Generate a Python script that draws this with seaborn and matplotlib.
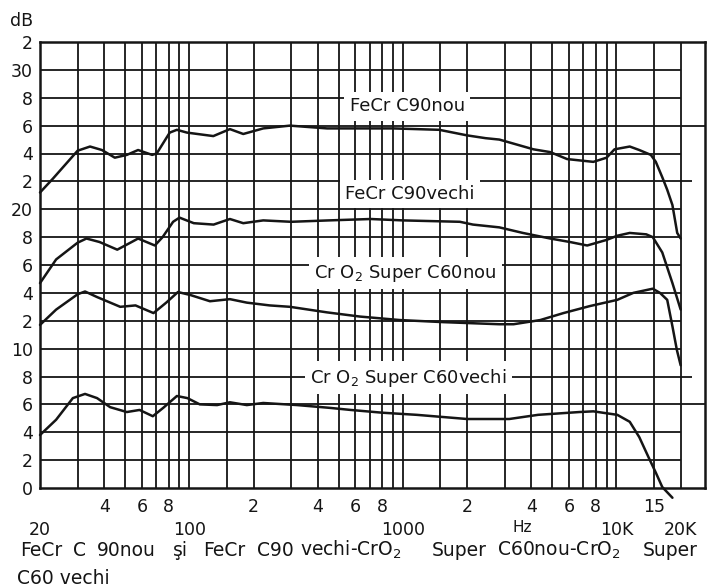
"""
Frequency response of four cassette tapes (FeCr C90 / CrO2 Super C60, new and old).
Curves are stacked with a vertical offset, as in the original scanned diagram.
"""

import matplotlib.pyplot as plt
import seaborn as sns
import pandas as pd

# FeCr C90 nou
f1 = [20, 23, 30, 34.3, 39, 44.8, 51, 57.6, 67, 70.4, 81, 87.5, 97.5, 129.6, 155, 179, 222, 296,
      442, 901, 1480, 2000, 2440, 2830, 4090, 4900, 5880, 7800, 9000, 9800, 11550, 12800, 14500,
      15300, 16400, 17300, 18300, 19270, 20000]
db1 = [21.2, 22.2, 24.2, 24.5, 24.25, 23.7, 23.9, 24.25, 23.9, 24.0, 25.5, 25.7, 25.5, 25.25, 25.75,
       25.4, 25.8, 26.0, 25.8, 25.8, 25.7, 25.3, 25.1, 25.0, 24.3, 24.1, 23.6, 23.4, 23.7, 24.3, 24.5,
       24.25, 23.9, 23.4, 22.3, 21.4, 20.3, 18.3, 17.9]

# FeCr C90 vechi
f2 = [20, 23.8, 30, 33, 38, 46, 53, 57.6, 69, 75, 84, 90, 105, 130, 155, 179, 222, 300, 450, 707,
      1000, 1850, 2130, 2830, 3650, 4900, 6060, 7300, 9000, 10100, 11550, 13800, 14800, 16400,
      18300, 20000]
db2 = [14.7, 16.4, 17.6, 17.9, 17.65, 17.1, 17.6, 17.9, 17.4, 18.0, 19.1, 19.4, 19.0, 18.9, 19.3,
       19.0, 19.2, 19.1, 19.2, 19.3, 19.2, 19.1, 18.9, 18.7, 18.3, 17.9, 17.65, 17.4, 17.8, 18.1,
       18.3, 18.2, 18.0, 16.9, 14.7, 12.8]

# CrO2 Super C60 nou
f3 = [20, 23.8, 30, 32.5, 37, 47.5, 56, 68, 78, 88.5, 101, 125, 155, 186, 238, 296, 442, 630, 970,
      1550, 2830, 3300, 4400, 5650, 7500, 10100, 12000, 14800, 16000, 17300, 18300, 19200, 20000]
db3 = [11.7, 12.8, 13.9, 14.1, 13.7, 13.0, 13.1, 12.55, 13.3, 14.06, 13.85, 13.4, 13.55, 13.3, 13.1,
       13.0, 12.6, 12.3, 12.05, 11.9, 11.75, 11.75, 12.05, 12.55, 13.05, 13.5, 14.0, 14.3, 14.0,
       13.5, 11.6, 9.9, 8.8]

# CrO2 Super C60 vechi
f4 = [20, 23.8, 28.5, 32.5, 37, 42.6, 51, 58.5, 67.5, 75.5, 87.5, 98, 112, 135, 155, 186, 222, 320,
      455, 570, 805, 1160, 2000, 3150, 4300, 6700, 7800, 10100, 11550, 12800, 14150, 15300, 16400,
      18300]
db4 = [3.8, 4.9, 6.45, 6.75, 6.45, 5.8, 5.45, 5.6, 5.15, 5.75, 6.6, 6.45, 6.0, 5.95, 6.15, 5.95, 6.1,
       5.95, 5.75, 5.6, 5.4, 5.25, 4.95, 4.95, 5.25, 5.45, 5.5, 5.25, 4.75, 3.65, 2.2, 1.1, 0.07, -0.7]

curve_names = ["FeCr C90 nou", "FeCr C90 vechi", "CrO2 Super C60 nou", "CrO2 Super C60 vechi"]

# labels written on the chart next to the curves (text, frequency, dB)
curve_labels = ["FeCr C90nou", "FeCr C90vechi", "Cr O$_2$ Super C60nou", "Cr O$_2$ Super C60vechi"]
label_freq = [1048, 1082, 1025, 1060]
label_db = [27.4, 21.1, 15.4, 7.9]

y_ticks = list(range(0, 33, 2))
y_tick_labels = ["0", "2", "4", "6", "8", "10", "2", "4", "6", "8", "20",
                 "2", "4", "6", "8", "30", "2"]
x_major = [20, 100, 1000, 10000, 20000]
x_major_labels = ["20", "100", "1000", "10K", "20K"]
x_minor = [40, 60, 80, 200, 400, 600, 800, 2000, 4000, 6000, 8000, 15000]
x_minor_labels = ["4", "6", "8", "2", "4", "6", "8", "2", "4", "6", "8", "15"]

grid_freq = [30, 40, 50, 60, 70, 80, 90, 100, 150, 200, 300, 400, 500, 600, 700, 800, 900,
             1000, 1500, 2000, 3000, 4000, 5000, 6000, 7000, 8000, 9000, 10000, 15000, 20000]

# caption under the chart, written word by word as on the original
caption_words = ["FeCr", "C", "90nou", "şi", "FeCr", "C90", "vechi-CrO$_2$", "Super",
                 "C60nou-CrO$_2$", "Super"]
caption_px = [20, 73, 97, 173, 203, 257, 300, 432, 497, 643]

frames = []
for name, f, db in zip(curve_names, [f1, f2, f3, f4], [db1, db2, db3, db4]):
    frames.append(pd.DataFrame({"freq": f, "db": db, "curve": name}))
df = pd.concat(frames, ignore_index=True)

sns.set_style("white")
plt.rcParams["font.family"] = ["DejaVu Sans"]
ink = "#151515"

fig = plt.figure(figsize=(7.09, 5.86), dpi=100)
ax = fig.add_axes([40 / 709, 98 / 586, 665 / 709, 446 / 586])

ax.set_xscale("log")
ax.set_xlim(20, 26000)
ax.set_ylim(0, 32)

# grid of the original paper
ax.vlines(grid_freq, 0, 32, color=ink, lw=1.3, zorder=1)
for y in y_ticks[1:-1]:
    end = 26000 if y in (26, 6) else (22500 if y in (22, 8) else 20000)
    ax.hlines(y, 20, end, color=ink, lw=1.3, zorder=1)

sns.lineplot(data=df, x="freq", y="db", hue="curve", palette=[ink] * 4, estimator=None,
             sort=False, legend=False, lw=1.8, ax=ax, zorder=3)
for line in ax.lines:
    line.set_clip_on(False)

for txt, fx, dy in zip(curve_labels, label_freq, label_db):
    ax.text(fx, dy, txt, fontsize=13, ha="center", va="center", color=ink, zorder=5,
            bbox=dict(boxstyle="square,pad=0.3", facecolor="white", edgecolor="none"))

ax.set_xticks(x_major, labels=x_major_labels)
ax.set_xticks(x_minor, labels=x_minor_labels, minor=True)
ax.tick_params(axis="x", which="major", length=0, pad=24, labelsize=12.5, colors=ink)
ax.tick_params(axis="x", which="minor", length=0, pad=7, labelsize=12.5, colors=ink)
ax.set_yticks(y_ticks, labels=y_tick_labels)
ax.tick_params(axis="y", length=0, pad=5, labelsize=12.5, colors=ink)
ax.set_xlabel("")
ax.set_ylabel("")

for sp in ax.spines.values():
    sp.set_color(ink)
    sp.set_linewidth(1.8)

fig.text(22 / 709, 1 - 21 / 586, "dB", fontsize=12.5, ha="center", va="center", color=ink)
fig.text(522 / 709, 1 - 528 / 586, "Hz", fontsize=11, ha="center", va="center", color=ink)
for word, px in zip(caption_words, caption_px):
    fig.text(px / 709, 1 - 550 / 586, word, fontsize=13.5, ha="left", va="center", color=ink)
fig.text(17 / 709, 1 - 578 / 586, "C60 vechi", fontsize=13.5, ha="left", va="center", color=ink)

fig.savefig("out.png", dpi=100)
